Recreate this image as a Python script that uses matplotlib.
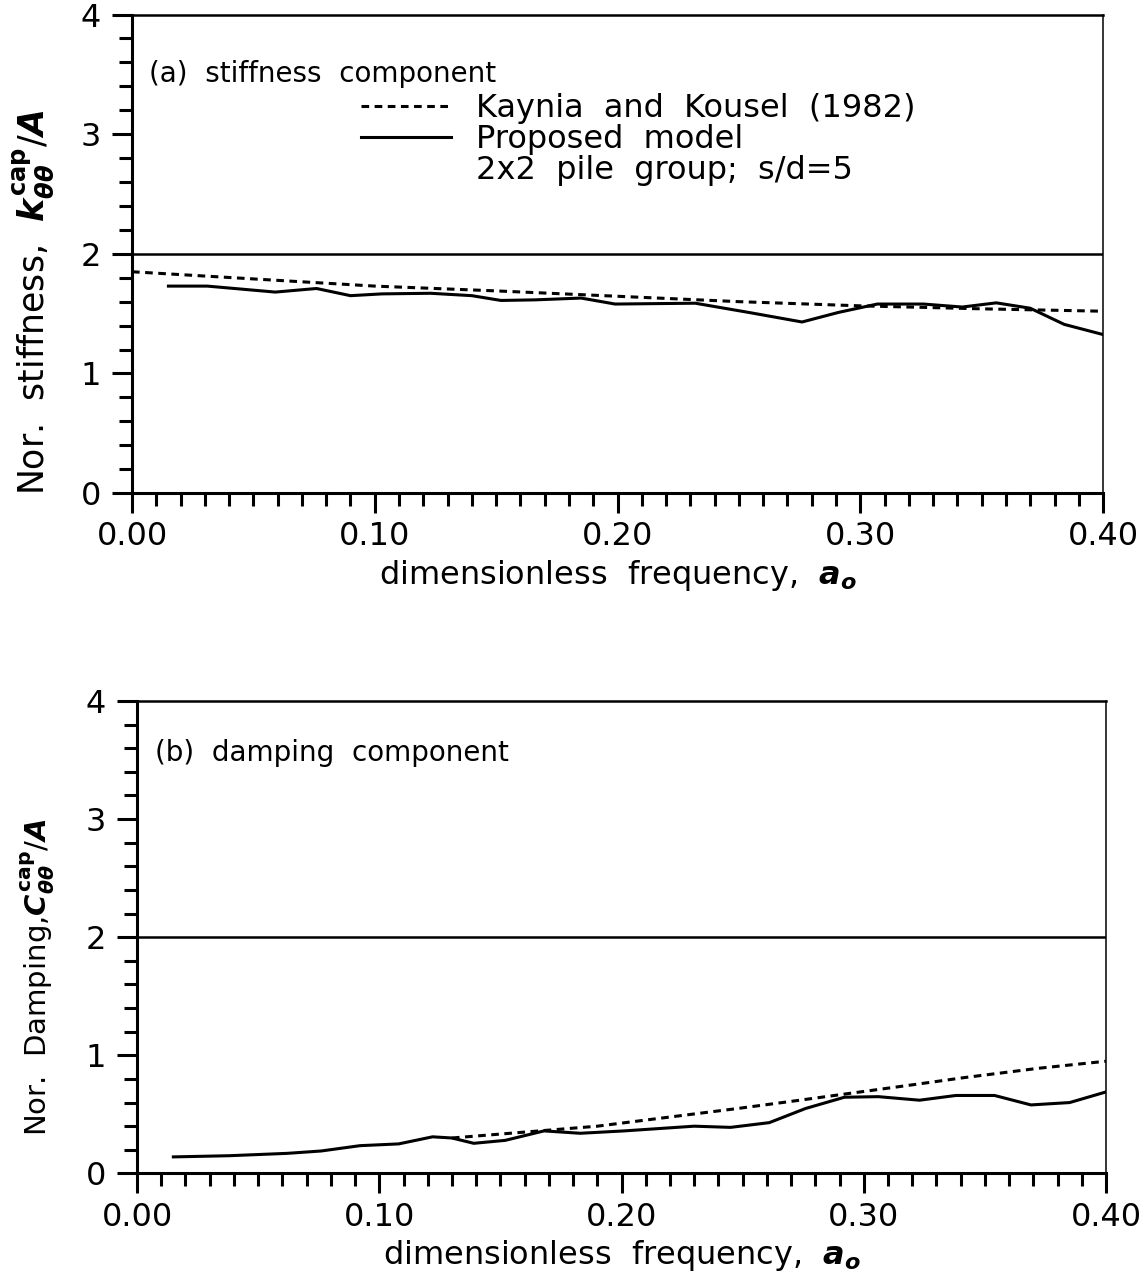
import matplotlib
matplotlib.use('Agg')
import matplotlib.pyplot as plt
from matplotlib.ticker import MultipleLocator, FormatStrFormatter
from matplotlib.lines import Line2D

plt.rcParams['font.family'] = ['DejaVu Sans']
plt.rcParams['mathtext.fontset'] = 'custom'
plt.rcParams['mathtext.rm'] = 'DejaVu Sans'
plt.rcParams['mathtext.it'] = 'DejaVu Sans:italic:bold'
plt.rcParams['mathtext.bf'] = 'DejaVu Sans:bold'

# (a) stiffness component
kk_a0_k = [0.0, 0.05, 0.10, 0.15, 0.20, 0.25, 0.30, 0.35, 0.40]
kk_stiff = [1.85, 1.79, 1.73, 1.69, 1.645, 1.60, 1.565, 1.54, 1.52]

prop_a0_k = [0.015, 0.031, 0.059, 0.076, 0.090, 0.103, 0.123, 0.140, 0.152,
             0.166, 0.185, 0.199, 0.232, 0.254, 0.276, 0.291, 0.307, 0.326,
             0.342, 0.356, 0.370, 0.384, 0.400]
prop_stiff = [1.73, 1.73, 1.68, 1.71, 1.65, 1.665, 1.67, 1.65, 1.61,
              1.615, 1.63, 1.58, 1.587, 1.51, 1.43, 1.51, 1.58, 1.58,
              1.555, 1.59, 1.545, 1.41, 1.325]

# (b) damping component
kk_a0_c = [0.13, 0.16, 0.19, 0.217, 0.248, 0.27, 0.295, 0.32, 0.341, 0.372, 0.40]
kk_damp = [0.30, 0.35, 0.40, 0.47, 0.55, 0.61, 0.68, 0.75, 0.81, 0.89, 0.95]

prop_a0_c = [0.015, 0.038, 0.062, 0.076, 0.092, 0.108, 0.122, 0.130, 0.139,
             0.152, 0.168, 0.183, 0.201, 0.230, 0.245, 0.261, 0.276, 0.292,
             0.306, 0.323, 0.338, 0.354, 0.369, 0.385, 0.400]
prop_damp = [0.14, 0.15, 0.17, 0.19, 0.235, 0.25, 0.31, 0.30, 0.255,
             0.28, 0.36, 0.34, 0.36, 0.40, 0.39, 0.43, 0.55, 0.645,
             0.65, 0.62, 0.66, 0.66, 0.58, 0.60, 0.69]

LW = 2.2
DASH = (2.5, 1.8)


def style_axes(ax):
    ax.set_xlim(0, 0.4)
    ax.set_ylim(0, 4)
    ax.xaxis.set_major_locator(MultipleLocator(0.1))
    ax.xaxis.set_minor_locator(MultipleLocator(0.01))
    ax.yaxis.set_major_locator(MultipleLocator(1))
    ax.yaxis.set_minor_locator(MultipleLocator(0.2))
    ax.xaxis.set_major_formatter(FormatStrFormatter('%.2f'))
    ax.tick_params(which='both', direction='out', top=False, right=False,
                   width=2.2, labelsize=23)
    ax.tick_params(which='major', length=14.4)
    ax.tick_params(which='minor', length=9.6)
    ax.tick_params(axis='x', which='major', pad=6)
    ax.tick_params(axis='y', which='major', pad=8)
    ax.spines['left'].set_linewidth(2.2)
    ax.spines['bottom'].set_linewidth(2.2)
    ax.spines['top'].set_linewidth(1.8)
    ax.spines['right'].set_linewidth(1.1)
    ax.axhline(2.0, color='black', lw=1.8)
    ax.set_xlabel(r'dimensionless  frequency,  $a_o$', fontsize=23, labelpad=4)


fig = plt.figure(figsize=(11.4, 12.77), dpi=100)
ax1 = fig.add_axes([0.1158, 0.6139, 0.8518, 0.3747])
ax2 = fig.add_axes([0.1202, 0.0811, 0.8500, 0.3700])

# stiffness panel
l_kk, = ax1.plot(kk_a0_k, kk_stiff, color='black', lw=LW, dashes=DASH,
                 label='Kaynia  and  Kousel  (1982)')
l_pr, = ax1.plot(prop_a0_k, prop_stiff, color='black', lw=LW,
                 label='Proposed  model')
style_axes(ax1)
ax1.text(0.0175, 0.875, '(a)  stiffness  component', transform=ax1.transAxes,
         fontsize=20, va='center', ha='left')
blank = Line2D([], [], color='none')
ax1.legend(handles=[l_kk, l_pr, blank],
           labels=['Kaynia  and  Kousel  (1982)', 'Proposed  model',
                   '2x2  pile  group;  s/d=5'],
           loc='upper left', bbox_to_anchor=(0.236, 0.836), frameon=False,
           fontsize=23, handlelength=2.8, handletextpad=0.8,
           labelspacing=0.0, borderpad=0, borderaxespad=0)
ax1.set_ylabel(r'Nor.  stiffness,  $k_{\theta\theta}^{\mathbf{cap}}/A$', fontsize=25)
ax1.yaxis.set_label_coords(-0.078, 0.40)

# damping panel
ax2.plot(kk_a0_c, kk_damp, color='black', lw=LW, dashes=DASH)
ax2.plot(prop_a0_c, prop_damp, color='black', lw=LW)
style_axes(ax2)
ax2.text(0.019, 0.89, '(b)  damping  component', transform=ax2.transAxes,
         fontsize=20, va='center', ha='left')
ax2.set_ylabel(r'Nor.  Damping,$C_{\theta\theta}^{\mathbf{cap}}/A$', fontsize=21)
ax2.yaxis.set_label_coords(-0.083, 0.414)

fig.savefig('out.png', dpi=100)
